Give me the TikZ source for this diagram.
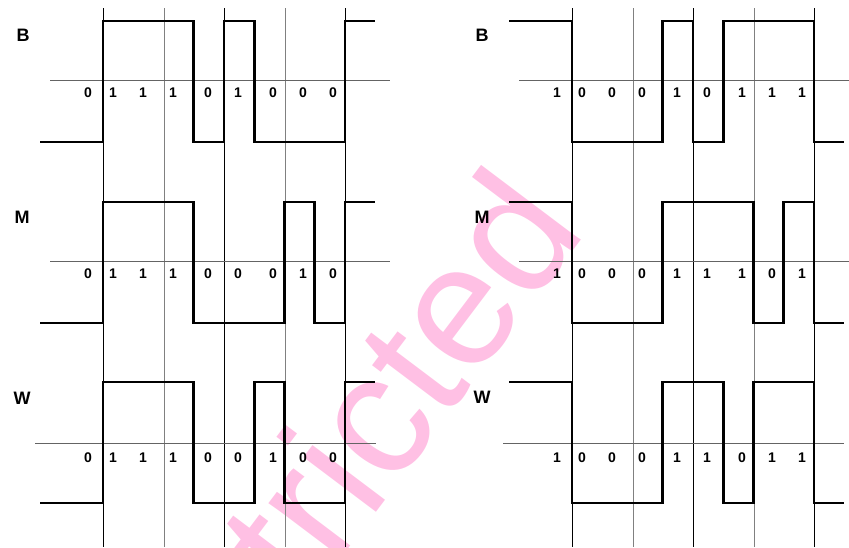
\documentclass[tikz,border=0pt]{standalone}
\usepackage{fontspec}
\setmainfont{Liberation Sans}
\usetikzlibrary{positioning}
\definecolor{GridGray}{RGB}{128,128,128}
\definecolor{AxisGray}{RGB}{100,100,100}
\definecolor{StampPink}{RGB}{255,192,228}
\tikzset{
  sigline/.style={line width=2.6pt,line join=miter},
  axisline/.style={AxisGray,line width=0.9pt},
  bit/.style={font=\fontsize{14}{16}\selectfont\bfseries,inner sep=0pt},
  rowname/.style={font=\fontsize{18}{20}\selectfont\bfseries,inner sep=0pt},
}
% #1 first edge, #2 high level, #3 level before, #4 levels after
\newcommand{\sigwave}[4]{%
  \draw[sigline] ({#1-63},{#2+121*(1-#3)}) -- ({#1},{#2+121*(1-#3)})
    \foreach \lv [count=\k] in {#4} {
      -- ({#1+30.25*(\k-1)},{#2+121*(1-\lv)}) -- ({#1+30.25*\k},{#2+121*(1-\lv)})};}
% #1 x shift, #2 y, #3 name, #4 bits
\newcommand{\bitrow}[4]{%
  \foreach \lv [count=\k] in {#4} {
    \pgfmathsetmacro\bx{{88,113,143,173,208,238,273,303,333}[\k-1]+#1}
    \node[bit] (#3\k) at (\bx,#2) {\lv};}}

\begin{document}
\begin{tikzpicture}[x=1pt,y=-1pt]
  \useasboundingbox (0,0) rectangle (849,547);
  \begin{scope}
    \clip (0,0) rectangle (849,547);
    \node[StampPink,font=\fontsize{172}{172}\selectfont,rotate=53,anchor=base east,inner sep=0pt] (stamp) at (588,231) {Restricted};
  \end{scope}
  \foreach \x/\c in {103/black,164/GridGray,224/black,285/GridGray,345/black} {
    \draw[\c,line width=0.9pt] (\x,8) -- (\x,547);
    \draw[\c,line width=0.9pt] (\x+469,8) -- (\x+469,547);
  }
  \draw[axisline] (50,80) -- (390,80);
  \draw[axisline] (519,80) -- (849,80);
  \draw[axisline] (50,261) -- (390,261);
  \draw[axisline] (519,261) -- (849,261);
  \draw[axisline] (35,443) -- (376,443);
  \draw[axisline] (503,443) -- (844,443);
  \sigwave{103}{21}{0}{1,1,1,0,1,0,0,0,1}
  \sigwave{572}{21}{1}{0,0,0,1,0,1,1,1,0}
  \sigwave{103}{202}{0}{1,1,1,0,0,0,1,0,1}
  \sigwave{572}{202}{1}{0,0,0,1,1,1,0,1,0}
  \sigwave{103}{382}{0}{1,1,1,0,0,1,0,0,1}
  \sigwave{572}{382}{1}{0,0,0,1,1,0,1,1,0}
  \node[rowname] (lB) at (23,35) {B};
  \node[rowname] (lM) at (22,217) {M};
  \node[rowname] (lW) at (22,398) {W};
  \node[rowname] (rB) at (482,35) {B};
  \node[rowname] (rM) at (482,217) {M};
  \node[rowname] (rW) at (482,397) {W};
  \bitrow{0}{93}{lb}{0,1,1,1,0,1,0,0,0}
  \bitrow{469}{93}{rb}{1,0,0,0,1,0,1,1,1}
  \bitrow{0}{274}{lm}{0,1,1,1,0,0,0,1,0}
  \bitrow{469}{274}{rm}{1,0,0,0,1,1,1,0,1}
  \bitrow{0}{458}{lw}{0,1,1,1,0,0,1,0,0}
  \bitrow{469}{458}{rw}{1,0,0,0,1,1,0,1,1}
\end{tikzpicture}
\end{document}
